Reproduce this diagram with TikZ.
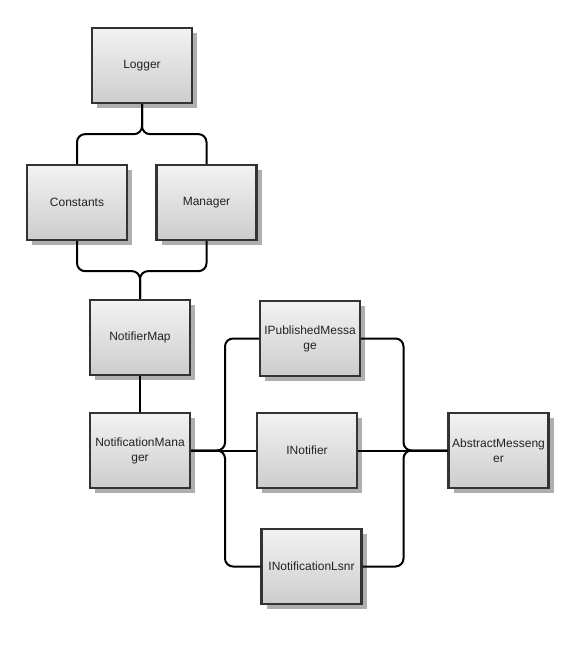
\documentclass[tikz,border=0pt]{standalone}
\usepackage{fontspec}
\setmainfont{Liberation Sans}
\usetikzlibrary{shadows}
\definecolor{boxline}{RGB}{51,51,51}
\definecolor{boxtop}{RGB}{242,242,242}
\definecolor{boxbot}{RGB}{205,205,205}
\definecolor{shadowc}{RGB}{175,175,175}
\definecolor{txt}{RGB}{34,34,34}
\tikzset{
  cls/.style={draw=boxline, line width=2.3pt, top color=boxtop, bottom color=boxbot,
    minimum width=100pt, minimum height=75pt, inner sep=0pt, align=center,
    font=\fontsize{12}{15}\selectfont, text=txt,
    drop shadow={shadow xshift=5pt, shadow yshift=-5pt, fill=shadowc, opacity=1}},
  link/.style={draw=black, line width=2pt, rounded corners=8pt}
}
\begin{document}
\begin{tikzpicture}[x=1pt,y=-1pt]
\useasboundingbox (0,0) rectangle (569,660);
\node[cls] (logger) at (142,65.5) {Logger};
\node[cls] (constants) at (77,202.5) {Constants};
\node[cls] (manager) at (206.5,202.5) {Manager};
\node[cls] (notifiermap) at (140,337.5) {NotifierMap};
\node[cls] (notifmgr) at (140,450.5) {NotificationMana\\ger};
\node[cls] (ipub) at (310,338.5) {IPublishedMessa\\ge};
\node[cls] (inotifier) at (307,450.5) {INotifier};
\node[cls] (ilsnr) at (311.5,566.5) {INotificationLsnr};
\node[cls] (abstract) at (498.5,450.5) {AbstractMesseng\\er};
\coordinate (jl) at (225,450.5);
\coordinate (jr) at (403.5,450.5);
% top braces
\draw[link] (logger.south) -- ++(0,30) -| (constants.north);
\draw[link] (logger.south) -- ++(0,30) -| (manager.north);
\draw[link] (constants.south) -- ++(0,30) -| (notifiermap.north);
\draw[link] (manager.south) -- ++(0,30) -| (notifiermap.north);
\draw[link] (notifiermap.south) -- (notifmgr.north);
% left brace
\draw[link] (notifmgr.east) -- (inotifier.west);
\draw[link] (notifmgr.east) -- (jl) |- (ipub.west);
\draw[link] (notifmgr.east) -- (jl) |- (ilsnr.west);
% right brace
\draw[link] (inotifier.east) -- (abstract.west);
\draw[link] (ipub.east) -| (jr) -- (abstract.west);
\draw[link] (ilsnr.east) -| (jr) -- (abstract.west);
\end{tikzpicture}
\end{document}
